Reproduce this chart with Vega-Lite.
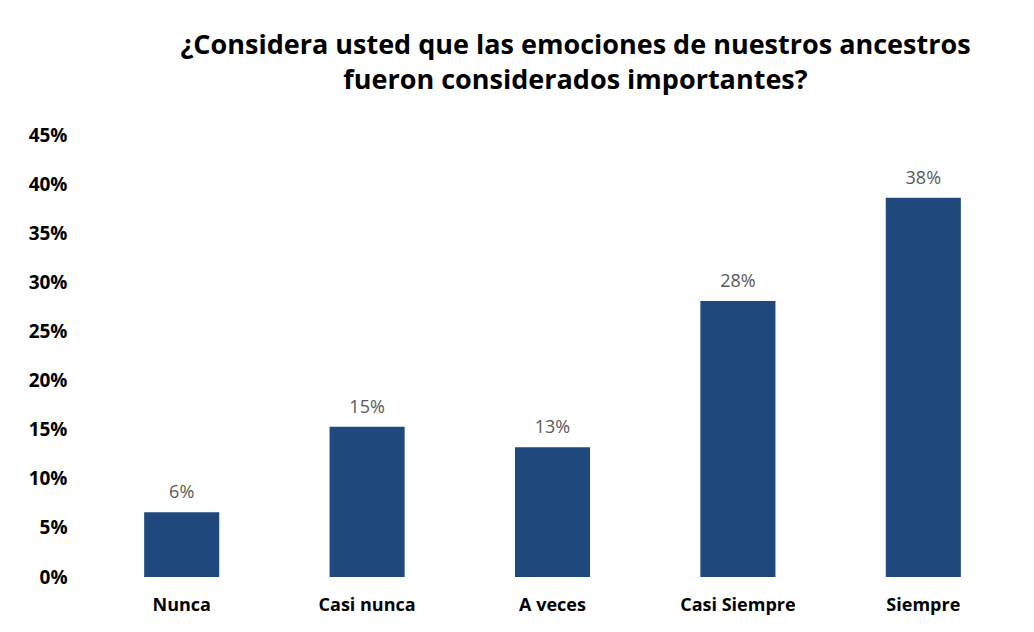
{
  "$schema": "https://vega.github.io/schema/vega-lite/v6.json",
  "autosize": "none",
  "width": 927,
  "height": 442,
  "padding": {"left": 89, "top": 135, "right": 18, "bottom": 55},
  "background": "white",
  "title": {
    "text": ["¿Considera usted que las emociones de nuestros ancestros", "fueron considerados importantes?"],
    "anchor": "middle",
    "dx": 23,
    "offset": 31,
    "font": "Open Sans",
    "fontSize": 27,
    "fontWeight": "bold",
    "color": "#000000",
    "lineHeight": 35
  },
  "data": {
    "values": [
      {"categoria": "Nunca", "valor": 0.066, "etiqueta": "6%"},
      {"categoria": "Casi nunca", "valor": 0.153, "etiqueta": "15%"},
      {"categoria": "A veces", "valor": 0.132, "etiqueta": "13%"},
      {"categoria": "Casi Siempre", "valor": 0.281, "etiqueta": "28%"},
      {"categoria": "Siempre", "valor": 0.386, "etiqueta": "38%"}
    ]
  },
  "encoding": {
    "x": {
      "field": "categoria",
      "type": "nominal",
      "sort": null,
      "scale": {"paddingInner": 0.595, "paddingOuter": 0.2975},
      "axis": {
        "title": null,
        "labelAngle": 0,
        "domain": false,
        "ticks": false,
        "labelPadding": 19,
        "labelFont": "Open Sans",
        "labelFontSize": 18,
        "labelFontWeight": "bold",
        "labelColor": "#000000"
      }
    },
    "y": {
      "field": "valor",
      "type": "quantitative",
      "scale": {"domain": [0, 0.45], "nice": false},
      "axis": {
        "title": null,
        "values": [0, 0.05, 0.1, 0.15, 0.2, 0.25, 0.3, 0.35, 0.4, 0.45],
        "format": ".0%",
        "grid": false,
        "domain": false,
        "ticks": false,
        "labelPadding": 22,
        "labelFont": "Open Sans",
        "labelFontSize": 19,
        "labelFontWeight": "bold",
        "labelColor": "#000000"
      }
    }
  },
  "layer": [
    {"mark": {"type": "bar", "color": "#1F497D"}},
    {
      "mark": {"type": "text", "baseline": "bottom", "dy": -10, "font": "Open Sans", "fontSize": 18, "color": "#595959"},
      "encoding": {"text": {"field": "etiqueta"}}
    }
  ],
  "config": {"view": {"stroke": null}}
}
